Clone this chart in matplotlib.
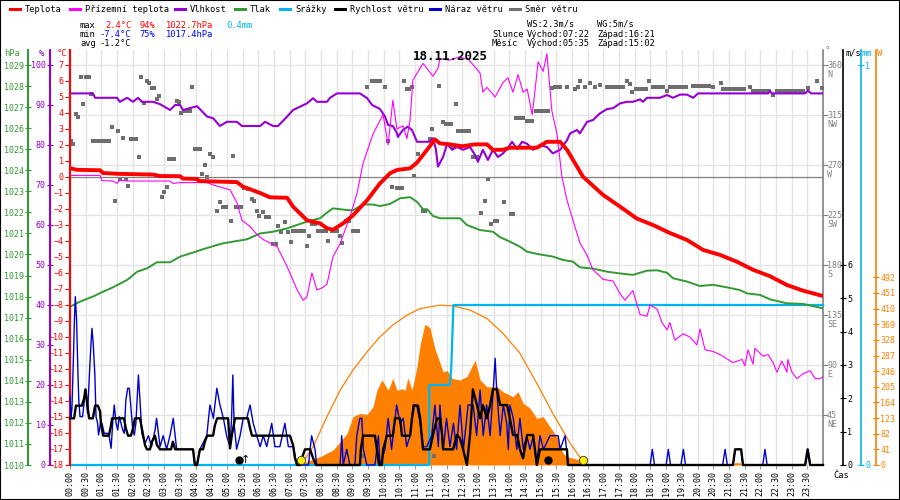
import matplotlib
matplotlib.use('Agg')
import matplotlib.pyplot as plt
from matplotlib.lines import Line2D
from matplotlib.patches import Rectangle
from matplotlib.transforms import blended_transform_factory, ScaledTranslation

plt.rcParams['font.family'] = ['DejaVu Sans Mono', 'DejaVu Sans']

# ---------------- data (time in hours) ----------------
temp_t = [0.0, 0.22, 0.96, 1.05, 1.5, 2.65, 2.87, 3.51, 3.6, 4.05, 4.11, 4.56, 5.32, 5.51, 6.06,
          6.37, 6.92, 7.11, 7.55, 7.97, 8.19, 8.38, 8.7, 9.02, 9.47, 9.88, 10.2, 10.42, 10.84,
          11.06, 11.38, 11.63, 11.79, 12.11, 12.5, 12.9, 13.29, 13.48, 13.8, 14.02, 14.88, 15.2,
          15.62, 15.84, 16.35, 16.99, 17.53, 18.07, 18.58, 19.12, 19.67, 20.18, 20.72, 21.26,
          21.77, 22.31, 22.85, 23.36, 24.0]
temp_v = [0.55, 0.45, 0.42, 0.25, 0.2, 0.15, 0.06, 0.05, -0.1, -0.12, -0.25, -0.28, -0.32, -0.6, -1.0,
          -1.27, -1.3, -1.85, -2.7, -2.9, -3.2, -3.3, -2.9, -2.4, -1.45, -0.4, 0.23, 0.44, 0.54,
          0.9, 1.7, 2.35, 2.1, 2.04, 1.92, 2.04, 2.04, 1.7, 1.7, 1.83, 1.83, 2.2,
          2.2, 1.7, 0.02, -1.12, -1.85, -2.6, -3.0, -3.5, -3.94, -4.56, -4.87, -5.3,
          -5.8, -6.2, -6.75, -7.1, -7.44]

gtemp_t = [0.0, 0.96, 1.02, 1.37, 1.5, 1.59, 1.82, 3.19, 3.28, 3.51, 4.37, 4.56, 5.1, 5.32, 5.48,
           5.74, 5.96, 6.15, 6.6, 6.92, 7.24, 7.43, 7.55, 7.71, 7.87, 8.06, 8.19, 8.38, 8.61,
           8.92, 9.15, 9.34, 9.66, 9.98, 10.14, 10.29, 10.42, 10.61, 10.74, 10.84, 10.93, 11.25,
           11.57, 11.73, 11.79, 12.1, 12.4, 12.7, 13.07, 13.16, 13.29, 13.55, 13.8, 13.96, 14.12,
           14.28, 14.44, 14.57, 14.73, 14.82, 14.92, 15.08, 15.2, 15.36, 15.52, 15.68, 15.84,
           16.03, 16.25, 16.48, 16.67, 16.99, 17.31, 17.53, 17.69, 17.94, 18.17, 18.39, 18.49,
           18.71, 18.87, 19.03, 19.12, 19.28, 19.54, 19.76, 19.98, 20.08, 20.24, 20.49, 20.72,
           21.13, 21.42, 21.51, 21.61, 21.77, 21.83, 22.09, 22.25, 22.41, 22.53, 22.69, 22.85,
           22.88, 23.01, 23.17, 23.36, 23.59, 23.75, 23.9, 24.0]
gtemp_v = [0.1, 0.1, -0.23, -0.25, -0.4, -0.2, -0.25, -0.25, -0.4, -0.35, -0.35, -0.5, -0.8, -1.6, -2.7,
           -3.1, -3.6, -3.9, -4.35, -5.6, -7.06, -7.7, -7.5, -6.0, -7.06, -6.9, -6.7, -5.0, -4.15,
           -2.5, -1.0, 0.85, 2.7, 3.9, 2.0, 4.8, 3.0, 3.2, 2.4, 3.6, 6.06, 7.1,
           6.3, 6.8, 7.4, 7.3, 7.5, 7.35, 6.5, 5.3, 5.6, 5.0, 5.9, 6.2, 5.3,
           6.4, 5.3, 5.5, 3.9, 5.4, 7.2, 6.6, 7.7, 4.1, 2.7, 0.0, -1.44,
           -2.7, -4.1, -4.9, -5.8, -6.4, -6.5, -7.3, -7.7, -7.1, -8.6, -8.7, -8.0,
           -8.25, -9.1, -9.56, -9.1, -10.2, -9.8, -10.0, -10.5, -9.5, -10.8, -10.9, -11.1,
           -11.6, -11.4, -11.8, -10.8, -11.7, -10.7, -11.2, -11.1, -11.6, -12.2, -11.5, -12.2,
           -11.4, -12.2, -12.6, -12.3, -12.1, -12.6, -12.6, -12.5]

hum_t = [0.0, 0.73, 0.8, 1.5, 1.59, 1.82, 2.01, 2.17, 2.29, 2.65, 2.87, 3.19, 3.35, 3.51, 3.6, 4.05,
         4.37, 4.56, 4.78, 5.0, 5.32, 5.48, 6.06, 6.22, 6.47, 6.63, 6.92, 7.11, 7.55, 7.75, 7.87,
         8.19, 8.29, 8.51, 9.24, 9.47, 9.63, 9.88, 10.04, 10.14, 10.29, 10.42, 10.45, 10.61, 10.77,
         10.9, 11.06, 11.47, 11.57, 11.66, 11.73, 11.89, 12.02, 12.18, 12.33, 12.53, 12.75, 12.91,
         13.0, 13.16, 13.32, 13.48, 13.64, 13.8, 13.93, 14.09, 14.25, 14.41, 14.57, 14.76, 14.98,
         15.2, 15.39, 15.62, 15.84, 15.94, 16.16, 16.25, 16.48, 16.67, 16.89, 17.12, 17.31, 17.53,
         17.75, 17.94, 18.17, 18.26, 18.39, 18.8, 19.03, 19.22, 19.44, 19.67, 19.86, 20.02, 22.25,
         22.31, 22.37, 23.43, 23.52, 23.62, 24.0]
hum_v = [92.9, 92.9, 91.8, 91.8, 90.8, 91.8, 90.8, 91.8, 90.8, 90.8, 90.2, 88.75, 90.0, 90.0, 88.75, 89.7,
         87.1, 86.7, 84.75, 85.8, 85.8, 84.75, 84.75, 85.8, 84.75, 84.75, 87.1, 88.75, 90.4, 91.7, 90.8,
         90.8, 91.8, 92.9, 92.9, 91.7, 90.0, 89.0, 87.1, 85.0, 84.75, 83.0, 82.0, 83.75, 84.6,
         83.75, 80.8, 80.8, 81.7, 79.0, 74.6, 77.0, 80.3, 78.8, 79.5, 78.8, 79.5, 77.5,
         75.8, 78.8, 76.25, 78.8, 77.0, 77.9, 79.0, 80.8, 79.0, 80.8, 80.3, 78.8, 80.0,
         79.5, 77.9, 78.8, 81.2, 82.9, 83.75, 82.9, 85.8, 86.25, 87.9, 89.0, 89.2, 90.4,
         90.8, 90.8, 91.4, 90.8, 91.8, 91.8, 92.5, 91.8, 92.6, 92.6, 91.8, 92.9, 92.9,
         93.5, 92.9, 92.9, 93.6, 92.9, 92.9]

pres_t = [0.0, 0.32, 0.73, 1.05, 1.37, 1.82, 2.14, 2.45, 2.77, 3.19, 3.51, 3.92, 4.24, 4.69, 4.88,
          5.2, 5.64, 6.06, 6.47, 6.92, 7.55, 7.97, 8.19, 8.38, 8.83, 9.02, 9.34, 9.66, 9.88, 10.2,
          10.52, 10.84, 11.06, 11.25, 11.38, 11.57, 11.79, 12.43, 12.65, 13.07, 13.48, 13.71, 14.02,
          14.34, 14.57, 14.98, 15.39, 15.71, 16.03, 16.25, 16.67, 17.12, 17.53, 17.94, 18.39, 18.71,
          19.03, 19.22, 19.67, 20.08, 20.49, 20.94, 21.35, 21.58, 21.99, 22.31, 22.85, 23.36, 23.68,
          24.0]
pres_v = [1017.52, 1017.76, 1018.0, 1018.23, 1018.44, 1018.79, 1019.18, 1019.34, 1019.63, 1019.63,
          1019.9, 1020.09, 1020.25, 1020.45, 1020.53, 1020.61, 1020.72, 1021.0, 1021.08, 1021.24,
          1021.56, 1021.72, 1021.99, 1022.19, 1022.11, 1022.1, 1022.38, 1022.37, 1022.3, 1022.4,
          1022.67, 1022.72, 1022.5, 1022.15, 1022.15, 1021.83, 1021.72, 1021.72, 1021.4, 1021.16,
          1021.08, 1020.82, 1020.61, 1020.37, 1020.13, 1020.0, 1019.9, 1019.74, 1019.66, 1019.39,
          1019.33, 1019.18, 1019.1, 1019.03, 1019.23, 1019.25, 1019.13, 1018.87, 1018.71, 1018.5,
          1018.56, 1018.44, 1018.31, 1018.15, 1018.08, 1017.87, 1017.68, 1017.65, 1017.55, 1017.44]

dir_t = [0.02, 0.09, 0.19, 0.25, 0.34, 0.42, 0.51, 0.61, 0.67,
         0.73, 0.82, 0.9, 0.98, 1.07, 1.15, 1.24, 1.33, 1.43, 1.52, 1.59, 1.68, 1.78, 1.86,
         1.93, 2.01, 2.1, 2.2, 2.26, 2.36, 2.44, 2.52, 2.6, 2.68, 2.76, 2.85, 2.92, 3.0, 3.08,
         3.16, 3.24, 3.32, 3.4, 3.48, 3.55, 3.67, 3.75, 3.83, 3.9, 3.98, 4.07, 4.14, 4.22, 4.3,
         4.38, 4.46, 4.57, 4.68, 4.78, 4.88, 4.96, 5.12, 5.2, 5.29, 5.37, 5.45, 5.53, 5.68, 5.79,
         5.87, 5.95, 6.03, 6.14, 6.25, 6.33, 6.48, 6.56, 6.64, 6.72, 6.85, 6.96, 7.04, 7.12,
         7.21, 7.29, 7.37, 7.45, 7.54, 7.63, 7.71, 7.81, 7.89, 7.99, 8.07, 8.15, 8.23, 8.35,
         8.43, 8.52, 8.6, 8.68, 8.8, 8.9, 9.02, 9.1, 9.18, 9.3, 9.46, 9.63, 9.71, 9.8, 9.88,
         10.04, 10.14, 10.27, 10.42, 10.5, 10.58, 10.66, 10.74, 10.82, 10.9, 10.98, 11.1, 11.25,
         11.33, 11.47, 11.54, 11.6, 11.76, 11.9, 11.98, 12.06, 12.14, 12.22, 12.3, 12.38, 12.46,
         12.55, 12.63, 12.71, 12.83, 12.96, 13.1, 13.23, 13.33, 13.42, 13.55, 13.62, 13.84,
         14.05, 14.13, 14.22, 14.3, 14.38, 14.45, 14.57, 14.65, 14.73, 14.84, 14.92, 15.0,
         15.08, 15.16, 15.25, 15.35, 15.46, 15.54, 15.62, 15.83, 16.1, 16.18, 16.27, 16.41,
         16.57, 16.73, 16.89, 17.11, 17.2, 17.28, 17.36, 17.45, 17.53, 17.64, 17.76, 17.84,
         17.92, 18.04, 18.12, 18.2, 18.29, 18.37, 18.46, 18.58, 18.66, 18.75, 18.83, 18.91,
         19.02, 19.12, 19.2, 19.29, 19.37, 19.45, 19.54, 19.62, 19.86, 19.94, 20.03, 20.11,
         20.19, 20.28, 20.36, 20.5, 20.74, 20.82, 20.9, 20.98, 21.06, 21.15, 21.23, 21.31,
         21.39, 21.47, 21.67, 21.77, 21.85, 21.93, 22.02, 22.1, 22.18, 22.27, 22.42, 22.53,
         22.61, 22.7, 22.78, 22.86, 22.95, 23.03, 23.11, 23.2, 23.28, 23.36, 23.52, 23.8, 23.96]
dir_v = [292, 289, 316, 313, 349, 325, 349, 349, 334,
         292, 292, 292, 292, 292, 292, 292, 304, 238, 301, 257, 294, 257, 251,
         293, 293, 293, 277, 349, 326, 346, 344, 339, 339, 329, 332, 241, 246, 250,
         275, 275, 275, 328, 327, 317, 319, 319, 319, 340, 284, 284, 284, 262, 270,
         259, 280, 277, 229, 237, 232, 232, 220, 278, 232, 232, 232, 249, 248, 239,
         238, 229, 224, 228, 223, 223, 199, 199, 215, 210, 219, 210, 201, 211,
         211, 211, 211, 211, 197, 206, 217, 217, 211, 211, 211, 211, 202, 211,
         211, 211, 206, 200, 220, 220, 211, 211, 211, 8, 340, 346, 346, 346, 346,
         340, 292, 250, 249, 249, 249, 346, 338, 338, 340, 260, 280, 229,
         229, 293, 302, 8, 341, 309, 307, 307, 307, 286, 325, 301, 301,
         301, 301, 301, 277, 277, 227, 238, 257, 217, 220, 220, 237,
         226, 226, 312, 312, 312, 312, 310, 310, 310, 319, 319, 319,
         319, 319, 319, 339, 340, 340, 340, 340, 338, 340, 346, 340,
         344, 340, 342, 340, 340, 340, 340, 340, 340, 340, 346, 343,
         336, 338, 338, 338, 338, 338, 346, 340, 340, 340, 340, 340,
         337, 340, 340, 340, 340, 340, 340, 340, 341, 341, 341, 341,
         341, 341, 341, 340, 344, 338, 338, 338, 338, 338, 338, 338,
         338, 338, 340, 337, 337, 337, 337, 337, 337, 337, 333, 337,
         337, 337, 337, 337, 337, 337, 337, 337, 337, 337, 339, 346, 339]

ws_t = [0.0, 0.13, 0.19, 0.38, 0.45, 0.49, 0.54, 0.61, 0.73, 0.8, 0.89, 0.96, 0.99, 1.06, 1.24,
        1.31, 1.34, 1.72, 1.78, 1.85, 1.94, 2.01, 2.07, 2.23, 2.29, 2.39, 2.45, 2.55, 2.61, 2.71,
        2.77, 2.87, 3.22, 3.28, 3.35, 3.92, 3.98, 4.05, 4.14, 4.24, 4.3, 4.37, 4.56, 4.62, 4.69,
        5.04, 5.1, 5.16, 5.26, 5.67, 5.74, 5.8, 7.01, 7.11, 7.17, 7.24, 7.33, 7.39, 7.49, 7.65,
        7.75, 7.84, 9.24, 9.27, 9.34, 9.72, 9.78, 9.85, 9.94, 9.98, 10.1, 10.29, 10.36, 10.52,
        10.58, 10.84, 10.9, 10.96, 11.09, 11.16, 11.25, 11.47, 11.57, 11.7, 11.79, 11.86, 11.89,
        12.21, 12.33, 12.43, 12.53, 12.65, 12.75, 12.84, 12.97, 13.07, 13.16, 13.29, 13.39,
        13.48, 13.61, 13.71, 13.93, 14.02, 14.12, 14.25, 14.34, 14.44, 14.57, 14.76, 14.88,
        14.98, 15.84, 15.87, 21.13, 21.2, 21.39, 21.45, 23.43, 23.51, 23.59, 24.0]
ws_v = [1.4, 1.4, 1.78, 1.78, 2.0, 2.27, 1.9, 1.4, 1.4, 1.78, 1.78, 1.6, 1.2, 0.88, 0.88,
        1.2, 1.4, 1.4, 1.1, 0.88, 0.88, 1.1, 1.4, 1.4, 1.1, 0.6, 0.47, 0.47, 0.7, 0.88,
        0.6, 0.47, 0.47, 0.7, 0.47, 0.47, 0.0, 0.0, 0.47, 0.47, 0.7, 0.88, 0.88, 1.2, 1.4,
        1.4, 0.5, 0.9, 1.4, 1.4, 1.1, 0.88, 0.88, 0.6, 0.2, 0.0, 0.0, 0.2, 0.47, 0.47,
        0.2, 0.0, 0.0, 0.47, 0.88, 0.88, 0.47, 0.0, 0.0, 0.47, 0.88, 0.88, 1.4, 1.4,
        0.88, 0.88, 1.4, 1.78, 1.78, 1.4, 0.47, 0.47, 0.9, 1.4, 1.4, 0.9, 0.47,
        0.47, 0.9, 0.8, 0.47, 0.0, 0.9, 2.27, 1.8, 1.4, 1.8, 1.4, 1.8,
        2.27, 2.27, 1.8, 1.8, 1.4, 0.9, 0.9, 0.47, 0.2, 0.9, 0.9, 0.0,
        0.47, 0.47, 0.0, 0.0, 0.47, 0.47, 0.0, 0.0, 0.47, 0.0, 0.0]

wg_t = [0.0, 0.03, 0.06, 0.11, 0.14, 0.17, 0.21, 0.25, 0.28, 0.32, 0.4, 0.46, 0.51, 0.56, 0.62,
        0.67, 0.7, 0.74, 0.79, 0.83, 0.88, 0.91, 0.97, 1.02, 1.09, 1.2, 1.25, 1.31, 1.36, 1.41,
        1.47, 1.52, 1.57, 1.68, 1.73, 1.78, 1.84, 1.89, 1.94, 2.0, 2.05, 2.1, 2.18, 2.23, 2.29,
        2.39, 2.5, 2.6, 2.71, 2.76, 2.87, 2.97, 3.08, 3.19, 3.29, 3.4, 3.93, 3.98, 4.04, 4.14,
        4.36, 4.46, 4.57, 4.68, 4.78, 4.89, 4.99, 5.1, 5.15, 5.19, 5.23, 5.31, 5.42, 5.52, 5.63,
        5.74, 5.84, 5.95, 6.06, 6.16, 6.27, 6.43, 6.53, 6.69, 6.85, 6.96, 7.12, 7.23, 7.6, 7.7,
        7.81, 7.86, 8.61, 8.66, 8.71, 8.82, 8.92, 9.08, 9.14, 9.24, 9.3, 9.35, 9.46, 9.72, 9.83,
        9.88, 10.04, 10.14, 10.25, 10.41, 10.52, 10.62, 10.73, 10.84, 10.94, 11.05, 11.16, 11.26,
        11.37, 11.53, 11.63, 11.74, 11.79, 11.9, 12.0, 12.11, 12.22, 12.32, 12.43, 12.54, 12.69,
        12.85, 12.96, 13.07, 13.17, 13.28, 13.39, 13.49, 13.55, 13.6, 13.71, 13.81, 13.92, 13.97,
        14.02, 14.13, 14.24, 14.34, 14.45, 14.56, 14.66, 14.77, 14.87, 14.98, 15.09, 15.3, 15.56,
        15.62, 15.78, 15.88, 18.49, 18.56, 18.63, 19.0, 19.07, 19.14, 19.47, 19.55, 19.62, 20.8,
        20.88, 20.95, 21.13, 21.2, 21.39, 21.45, 22.08, 22.15, 22.22, 23.44, 23.52, 23.6, 24.0]
wg_v = [2.05, 1.45, 1.65, 3.25, 4.35, 5.05, 4.35, 2.85, 1.95, 1.45, 1.45, 1.95, 2.25, 1.55, 2.75,
        3.65, 4.1, 3.65, 2.75, 1.45, 1.25, 0.9, 1.25, 1.25, 0.95, 0.95, 0.85, 0.5, 1.25, 1.8,
        1.25, 1.05, 1.45, 1.05, 0.95, 1.95, 2.3, 2.3, 1.75, 1.05, 0.9, 1.25, 2.7, 1.95, 0.95,
        0.65, 0.88, 0.55, 1.05, 1.4, 0.55, 0.88, 0.47, 0.9, 1.4, 0.47, 0.47, 0.0, 0.0, 0.47,
        0.88, 1.8, 1.4, 2.3, 1.8, 1.4, 0.88, 0.55, 1.4, 2.7, 1.25, 0.47, 0.88, 1.4, 1.4,
        1.8, 1.25, 0.88, 0.55, 0.88, 0.55, 1.25, 0.55, 0.55, 1.25, 0.55, 0.55, 0.0, 0.0, 0.88,
        0.47, 0.0, 0.0, 0.88, 0.0, 0.47, 0.0, 0.0, 0.88, 1.4, 1.4, 0.47, 0.0, 0.0, 0.88,
        0.0, 0.47, 1.4, 0.47, 1.8, 1.25, 1.4, 0.55, 0.88, 1.8, 1.8, 1.25, 0.55,
        0.55, 0.88, 1.8, 0.55, 1.8, 0.47, 1.4, 0.55, 1.25, 0.47, 1.8, 0.47, 1.8,
        1.8, 0.88, 2.25, 0.88, 1.8, 0.88, 2.25, 3.2, 2.25, 0.88, 1.8, 1.25, 0.47,
        1.8, 1.4, 0.47, 1.4, 0.47, 0.88, 0.47, 0.88, 0.0, 0.88, 0.47, 0.88, 0.88,
        0.47, 0.88, 0.0, 0.0, 0.47, 0.0, 0.0, 0.47, 0.0, 0.0, 0.47, 0.0, 0.0,
        0.47, 0.0, 0.0, 0.47, 0.47, 0.0, 0.0, 0.47, 0.0, 0.0, 0.47, 0.0, 0.0]

rain_t = [0.0, 11.45, 11.45, 12.1, 12.15, 12.22, 24.0]
rain_v = [0.0, 0.0, 0.2, 0.2, 0.24, 0.4, 0.4]

sol_t = [7.36, 7.55, 7.97, 8.19, 8.38, 8.61, 8.83, 9.02, 9.24, 9.47, 9.66, 9.78, 9.94, 10.14, 10.29,
         10.42, 10.58, 10.68, 10.77, 10.9, 11.06, 11.16, 11.31, 11.47, 11.63, 11.79, 11.89, 12.02,
         12.18, 12.43, 12.65, 12.91, 13.07, 13.29, 13.61, 13.8, 14.12, 14.28, 14.44, 14.66, 14.88,
         15.08, 15.3, 15.52, 15.71, 15.84, 16.25, 16.57, 21.1, 21.2, 21.35, 21.45, 23.3, 23.38,
         23.47]
sol_v = [0, 9, 22, 31, 39, 61, 83, 127, 135, 133, 153, 196, 223, 196, 227,
         196, 200, 196, 229, 196, 258, 315, 369, 360, 305, 268, 244, 248,
         227, 223, 232, 275, 223, 205, 205, 192, 179, 192, 162, 149, 122,
         127, 100, 74, 31, 22, 13, 0, 0, 6, 6, 0, 0, 6,
         0]

solmax_t = [7.36, 7.75, 8.19, 8.61, 9.02, 9.47, 9.88, 10.29, 10.74, 11.16, 11.79, 12.21, 12.75,
            13.29, 13.8, 14.34, 14.88, 15.39, 15.94, 16.35, 16.48]
solmax_v = [0, 48, 127, 196, 249, 297, 336, 367, 393, 410, 419, 417, 406,
            384, 345, 293, 214, 135, 57, 9, 0]

sunrise, sunset = 7 + 22 / 60, 16 + 21 / 60
moonrise, moonset = 5 + 35 / 60, 15 + 2 / 60

temp_ticks = list(range(-18, 8))
hum_ticks = list(range(0, 101, 10))
pres_ticks = list(range(1010, 1030))
dir_ticks = [45, 90, 135, 180, 225, 270, 315, 360]
dir_names = ['NE', 'E', 'SE', 'S', 'SW', 'W', 'NW', 'N']
ws_ticks = [0, 1, 2, 3, 4, 5, 6]
rain_ticks = [0, 1]
sol_ticks = [0, 41, 82, 123, 164, 205, 246, 287, 328, 369, 410, 451, 492]
x_ticks = [h / 2 for h in range(48)]
x_labels = ['%02d:%02d' % (h // 2, 30 * (h % 2)) for h in range(48)]

# ---------------- colours ----------------
C_RED = '#ff0000'; C_MAG = '#ff00ff'; C_PUR = '#9400d3'; C_GRN = '#339933'
C_LBL = '#00b4f0'; C_BLU = '#0000cc'; C_GRY = '#6e6e6e'; C_ORG = '#ff8000'

FW, FH = 900, 500
fig = plt.figure(figsize=(9, 5), dpi=100)
fig.patch.set_facecolor('white')


def fx(px):
    return px / FW


def fy(py):
    return 1 - py / FH


L, R, T, B = 70, 823, 50, 465
ax0 = fig.add_axes([fx(L), fy(B), fx(R) - fx(L), fy(T) - fy(B)])
ax0.set_xlim(0, 24)
ax0.set_ylim(0, 373.5)

ax_s = ax0.twinx()
ax_r = ax0.twinx()
ax_d = ax0.twinx()
ax_p = ax0.twinx()
ax_h = ax0.twinx()
ax_t = ax0.twinx()
ax_w = ax0.twinx()
all_axes = [ax0, ax_s, ax_r, ax_d, ax_p, ax_h, ax_t, ax_w]
for a in all_axes:
    for s in a.spines.values():
        s.set_visible(False)
    a.set_xlim(0, 24)

PT = 0.72  # points per pixel

# base axes: grid, x ticks, direction axis
ax0.yaxis.tick_right()
ax0.set_yticks(dir_ticks)
ax0.set_yticklabels([])
ax0.spines['right'].set_visible(True)
ax0.spines['right'].set_color('#808080')
ax0.spines['right'].set_linewidth(1.2)
ax0.tick_params(axis='y', which='both', direction='out', length=5 * PT, color='#808080',
                right=True, left=False)
ax0.set_xticks(x_ticks)
ax0.set_xticklabels(x_labels, rotation=90, fontsize=6)
ax0.tick_params(axis='x', length=4 * PT, pad=1.5, color='#999999')
ax0.grid(True, color='#e4e4e4', lw=1.0)
ax0.set_axisbelow(True)
btrans = blended_transform_factory(ax0.transAxes, ax0.transData)
for deg, name in zip(dir_ticks, dir_names):
    ax0.text(1.0, deg, '%d\n%s' % (deg, name), fontsize=6, color='#808080', ha='left', va='top',
             linespacing=1.05,
             transform=btrans + ScaledTranslation(4 / 100, 4 / 100, fig.dpi_scale_trans))


def right_axis(a, off_px, color, ticks, lo, hi):
    a.set_ylim(lo, hi)
    a.yaxis.tick_right()
    a.spines['right'].set_visible(True)
    a.spines['right'].set_position(('outward', off_px * PT))
    a.spines['right'].set_color(color)
    a.spines['right'].set_linewidth(1.2)
    a.set_yticks(ticks)
    a.tick_params(axis='y', direction='inout', length=6 * PT, colors=color, labelsize=6, pad=1)


def left_axis(a, off_px, color, ticks, lo, hi, direction='inout', length=6):
    a.set_ylim(lo, hi)
    a.yaxis.tick_left()
    a.spines['left'].set_visible(True)
    a.spines['left'].set_position(('outward', off_px * PT))
    a.spines['left'].set_color(color)
    a.spines['left'].set_linewidth(1.5)
    a.set_yticks(ticks)
    a.tick_params(axis='y', direction=direction, length=length * PT, colors=color, labelsize=6,
                  pad=1)


right_axis(ax_s, 53, C_ORG, sol_ticks, 0, 1088)
right_axis(ax_r, 38, C_LBL, rain_ticks, 0, 1.0375)
right_axis(ax_w, 20, 'black', ws_ticks, 0, 12.45)
ax_d.set_ylim(0, 373.5)
ax_d.set_yticks([])
left_axis(ax_p, 42, C_GRN, pres_ticks, 1010, 1029.7125)
left_axis(ax_h, 20, C_PUR, hum_ticks, 0, 103.75)
left_axis(ax_t, 0, C_RED, temp_ticks, -18, 7.9375, direction='out', length=5)
ax0.yaxis.tick_right()
ax0.tick_params(axis='y', left=False, right=True, labelleft=False, labelright=False)

# ---------------- series ----------------
ax_s.fill_between(sol_t, sol_v, 0, color=C_ORG, lw=0)
ax_s.plot(solmax_t, solmax_v, color=C_ORG, lw=0.9)
ax_r.plot(rain_t, rain_v, color=C_LBL, lw=1.6, clip_on=False)
ax_d.plot(dir_t, dir_v, ls='none', marker='s', ms=3.5, mew=0, color=C_GRY)
ax_p.plot(pres_t, pres_v, color=C_GRN, lw=1.4)
ax_t.axhline(0, color='#808080', lw=0.9)
ax_t.plot(gtemp_t, gtemp_v, color=C_MAG, lw=0.8)
ax_t.plot(temp_t, temp_v, color=C_RED, lw=2.8, solid_capstyle='butt')
ax_h.plot(hum_t, hum_v, color=C_PUR, lw=1.5)
ax_w.plot(wg_t, wg_v, color=C_BLU, lw=1.0, clip_on=False)
ax_w.plot(ws_t, ws_v, color='black', lw=1.7, clip_on=False)

# sun and moon markers
wtrans = blended_transform_factory(ax_w.transData, ax_w.transAxes)
ax_w.plot([sunrise, sunset], [0.012, 0.012], transform=wtrans, ls='none', marker='o', ms=6,
          mfc='#ffee00', mec='#333333', mew=0.6, clip_on=False)
ax_w.plot([moonrise], [0.012], ls='none', marker='o', ms=5, color='black', clip_on=False,
          transform=wtrans + ScaledTranslation(-6 / 100, 0, fig.dpi_scale_trans))
ax_w.plot([moonset], [0.012], ls='none', marker='o', ms=5, color='black', clip_on=False,
          transform=wtrans + ScaledTranslation(6 / 100, 0, fig.dpi_scale_trans))
ax_w.text(moonrise, 0.0, '\u2191', transform=wtrans, ha='center', va='bottom', fontsize=8,
          family='DejaVu Sans', color='black')

# ---------------- header texts ----------------
legend = [('Teplota', C_RED, 10), ('Přízemní teplota', C_MAG, 70), ('Vlhkost', C_PUR, 175),
          ('Tlak', C_GRN, 235), ('Srážky', C_LBL, 280), ('Rychlost větru', 'black', 335),
          ('Náraz větru', C_BLU, 430), ('Směr větru', '#707070', 510)]
for lab, col, x0 in legend:
    fig.add_artist(Line2D([fx(x0), fx(x0 + 10)], [fy(9), fy(9)], color=col, lw=2.2,
                          transform=fig.transFigure))
    fig.text(fx(x0 + 15), fy(9), lab, fontsize=6.3, va='center', ha='left')

def ftxt(x, y, s, color='black', **kw):
    fig.text(fx(x), fy(y), s, fontsize=6.3, color=color, va='center', ha='left', **kw)

ftxt(80, 25, 'max'); ftxt(105, 25, '2.4°C', C_RED); ftxt(139, 25, '94%', C_RED)
ftxt(166, 25, '1022.7hPa', C_RED); ftxt(226, 25, '0.4mm', C_LBL)
ftxt(80, 34, 'min'); ftxt(99, 34, '-7.4°C', '#0000ff'); ftxt(139, 34, '75%', '#0000ff')
ftxt(166, 34, '1017.4hPa', '#0000ff')
ftxt(80, 44, 'avg'); ftxt(99, 44, '-1.2°C')
ftxt(527, 24, 'WS:2.3m/s'); ftxt(597, 24, 'WG:5m/s')
ftxt(492, 34, 'Slunce'); ftxt(527, 34, 'Východ:07:22'); ftxt(597, 34, 'Západ:16:21')
ftxt(492, 44, 'Měsíc'); ftxt(527, 44, 'Východ:05:35'); ftxt(597, 44, 'Západ:15:02')

fig.text(fx(450), fy(57), '18.11.2025', fontsize=9, fontweight='bold', ha='center', va='center')

ftxt(4, 53, 'hPa', C_GRN); ftxt(39, 53, '%', C_PUR); ftxt(57, 53, '°C', C_RED)
ftxt(825, 51, '°', '#808080'); ftxt(845, 53, 'm/s'); ftxt(862, 53, 'mm', C_LBL)
ftxt(877, 53, 'W', C_ORG)
ftxt(833, 475, 'Čas')

fig.add_artist(Rectangle((0, 0), 1, 1, transform=fig.transFigure, fill=False,
                         edgecolor='black', lw=1.5))

fig.savefig('out.png', dpi=100, facecolor='white')
